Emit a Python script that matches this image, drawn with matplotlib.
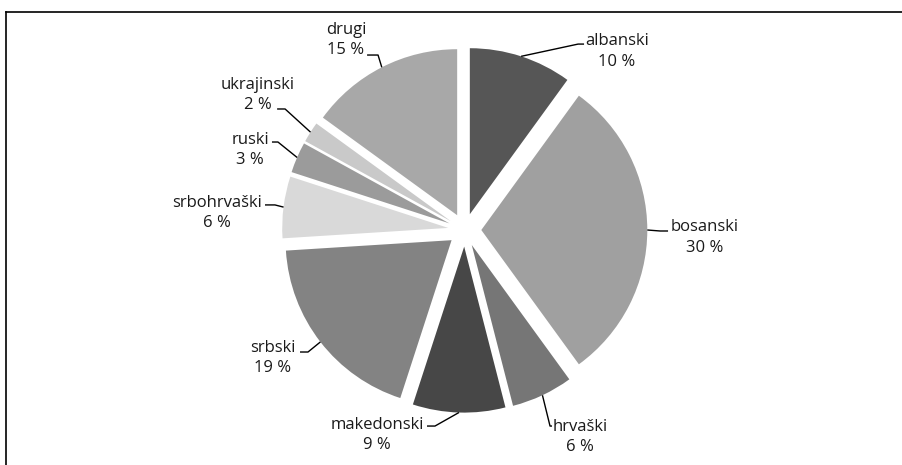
import matplotlib
matplotlib.use("Agg")
import matplotlib.pyplot as plt
import numpy as np
from matplotlib.lines import Line2D

# language shares (%), clockwise from 12 o'clock
languages = ["albanski", "bosanski", "hrvaški", "makedonski", "srbski",
             "srbohrvaški", "ruski", "ukrajinski", "drugi"]
shares = [10, 30, 6, 9, 19, 6, 3, 2, 15]

slice_colors = ["#565656", "#a0a0a0", "#767676", "#474747", "#838383",
                "#d9d9d9", "#9b9b9b", "#c9c9c9", "#a8a8a8"]

# label layout in pie-radius units: text centre, leader elbow, leader end
text_pos = [(0.918, 1.075), (1.448, -0.045), (0.695, -1.247), (-0.528, -1.235),
            (-1.155, -0.771), (-1.492, 0.102), (-1.293, 0.482), (-1.245, 0.813),
            (-0.715, 1.145)]
elbow_pos = [(0.683, 1.120), (1.177, -0.006), (0.514, -1.181), (-0.179, -1.181),
             (-0.944, -0.735), (-1.143, 0.151), (-1.125, 0.530), (-1.082, 0.729),
             (-0.522, 1.054)]
end_pos = [(0.719, 1.120), (1.225, -0.006), (0.526, -1.181), (-0.227, -1.181),
           (-0.992, -0.735), (-1.203, 0.151), (-1.161, 0.530), (-1.130, 0.729),
           (-0.588, 1.054)]

plt.rcParams["font.family"] = ["Open Sans", "DejaVu Sans"]

W, H, dpi = 902, 465, 100
fig = plt.figure(figsize=(W / dpi, H / dpi), dpi=dpi)
ax = fig.add_axes([0, 0, 1, 1])

unit = 166.0            # pixels per pie radius
cx, cy = 464.7, 230.0   # pie centre in pixels from top-left

wedges, _ = ax.pie(shares, colors=slice_colors, startangle=90, counterclock=False,
                   explode=[0.1] * len(shares), radius=1, center=(0, 0),
                   wedgeprops=dict(linewidth=0))

ax.set_xlim(-cx / unit, (W - cx) / unit)
ax.set_ylim(-(H - cy) / unit, cy / unit)
ax.set_aspect("auto")
ax.set_axis_off()

text_color = "#1a1a1a"
for w, name, val, tp, el, en in zip(wedges, languages, shares, text_pos, elbow_pos, end_pos):
    mid = np.deg2rad((w.theta1 + w.theta2) / 2)
    sx = w.center[0] + w.r * np.cos(mid)
    sy = w.center[1] + w.r * np.sin(mid)
    ax.plot([sx, el[0], en[0]], [sy, el[1], en[1]], color="black", lw=1.0,
            solid_capstyle="butt")
    ax.text(tp[0], tp[1], f"{name}\n{val} %", ha="center", va="center",
            multialignment="center", fontsize=12, color=text_color, linespacing=1.4)

# chart area border (top and left edges)
x0, y0 = 6 / W, 1 - 12 / H
fig.add_artist(Line2D([x0, 1], [y0, y0], transform=fig.transFigure, color="black", lw=1.2))
fig.add_artist(Line2D([x0, x0], [0, y0], transform=fig.transFigure, color="black", lw=1.2))

fig.savefig("out.png", dpi=dpi, facecolor="white")
